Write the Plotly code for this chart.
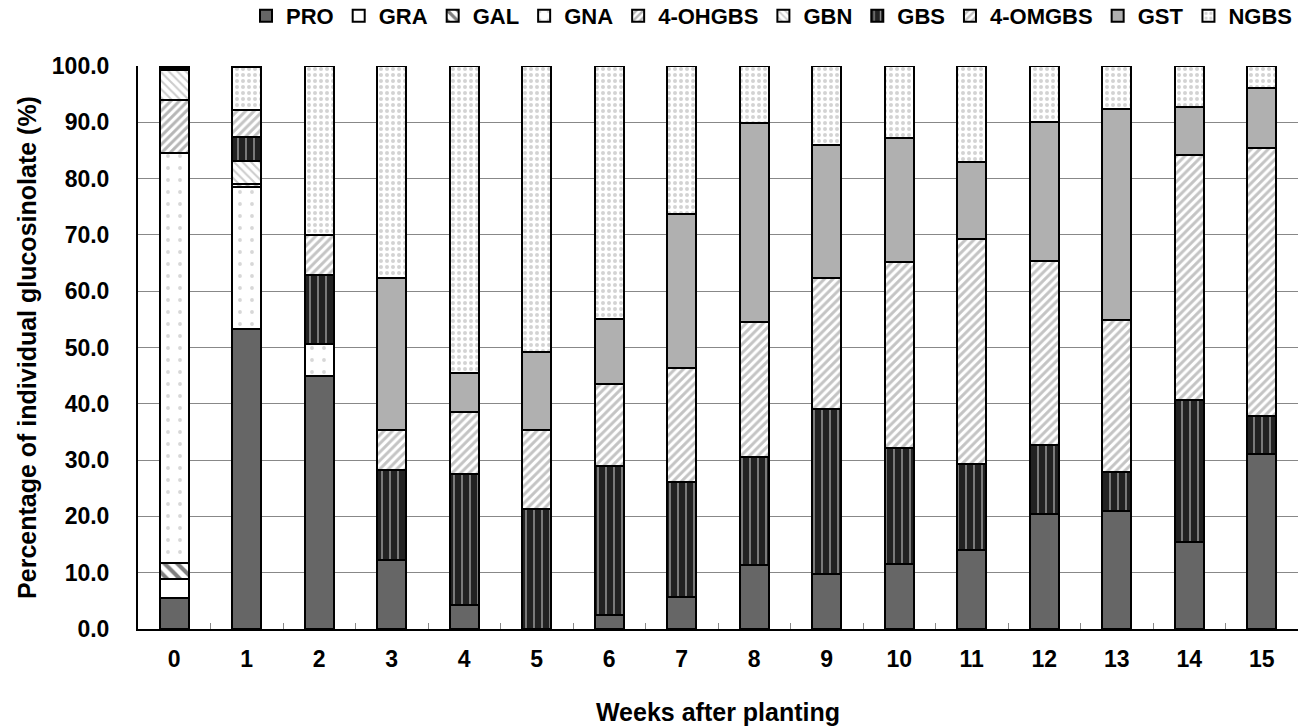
import plotly.graph_objects as go

weeks = [str(i) for i in range(16)]
series_names = ["PRO", "GRA", "GAL", "GNA", "4-OHGBS", "GBN", "GBS", "4-OMGBS", "GST", "NGBS"]

PRO = [5.5, 53.3, 45.0, 12.2, 4.3, 0.0, 2.5, 5.6, 11.4, 9.8, 11.6, 14.1, 20.5, 21.0, 15.5, 31.0]
GRA = [3.3, 0, 0, 0, 0, 0, 0, 0, 0, 0, 0, 0, 0, 0, 0, 0]
GAL = [3.0, 0, 0, 0, 0, 0, 0, 0, 0, 0, 0, 0, 0, 0, 0, 0]
GNA = [72.7, 25.2, 5.7, 0, 0, 0, 0, 0, 0, 0, 0, 0, 0, 0, 0, 0]
OHGBS = [9.5, 0.6, 0, 0, 0, 0, 0, 0, 0, 0, 0, 0, 0, 0, 0, 0]
GBN = [5.3, 4.1, 0, 0, 0, 0, 0, 0, 0, 0, 0, 0, 0, 0, 0, 0]
GBS = [0.4, 4.2, 12.1, 16.1, 23.3, 21.3, 26.4, 20.5, 19.1, 29.2, 20.6, 15.2, 12.2, 6.8, 25.1, 6.8]
OMGBS = [0, 4.7, 7.2, 7.0, 10.9, 14.0, 14.6, 20.3, 24.1, 23.4, 33.0, 39.9, 32.6, 27.0, 43.6, 47.7]
GST = [0, 0, 0, 27.0, 6.9, 13.9, 11.6, 27.4, 35.2, 23.6, 22.1, 13.8, 24.7, 37.6, 8.6, 10.6]
NGBS = [0.3, 7.8, 30.0, 37.7, 54.6, 50.8, 44.9, 26.2, 10.2, 14.0, 12.7, 17.0, 10.0, 7.6, 7.2, 3.9]

values = [PRO, GRA, GAL, GNA, OHGBS, GBN, GBS, OMGBS, GST, NGBS]

styles = [
    dict(color="#666666", pattern=dict(shape="")),
    dict(color="white", pattern=dict(shape="")),
    dict(color="white", pattern=dict(shape="\\", fgcolor="black", bgcolor="white", size=9, solidity=0.45)),
    dict(color="white", pattern=dict(shape=".", fgcolor="#b0b0b0", bgcolor="white", size=12, solidity=0.08)),
    dict(color="white", pattern=dict(shape="/", fgcolor="#6e6e6e", bgcolor="white", size=6, solidity=0.5)),
    dict(color="white", pattern=dict(shape="\\", fgcolor="#9a9a9a", bgcolor="white", size=6, solidity=0.35)),
    dict(color="#222222", pattern=dict(shape="|", fgcolor="white", bgcolor="#222222", size=8, solidity=0.2)),
    dict(color="white", pattern=dict(shape="/", fgcolor="#8a8a8a", bgcolor="white", size=6, solidity=0.5)),
    dict(color="#b0b0b0", pattern=dict(shape="")),
    dict(color="white", pattern=dict(shape=".", fgcolor="#a8a8a8", bgcolor="white", size=6, solidity=0.35)),
]

fig = go.Figure()
for name, vals, st in zip(series_names, values, styles):
    fig.add_trace(go.Bar(
        x=weeks, y=vals, name=name, width=0.4,
        marker=dict(color=st["color"], pattern=st["pattern"],
                    line=dict(color="black", width=2)),
    ))

font_family = "Liberation Sans, Arial, sans-serif"
fig.update_layout(
    barmode="stack",
    width=1300, height=726,
    margin=dict(l=138, r=2, t=66, b=97, autoexpand=False),
    plot_bgcolor="white", paper_bgcolor="white",
    font=dict(family=font_family, size=20, color="black"),
    legend=dict(orientation="h", x=1.0, xanchor="right", y=0.978, yanchor="middle",
                yref="container", font=dict(size=22, weight="bold"),
                itemwidth=30, tracegroupgap=0, traceorder="normal"),
    showlegend=True,
)
fig.update_xaxes(
    type="category", range=[-0.5, 15.5], automargin=False,
    showline=True, linecolor="black", linewidth=2,
    ticks="inside", tickson="boundaries", ticklen=6, tickcolor="#888888", tickwidth=1,
    showgrid=False,
    ticklabelstandoff=8,
    tickfont=dict(size=23, weight="bold"),
    title=dict(text="Weeks after planting", font=dict(size=25, weight="bold"), standoff=44),
)
fig.update_yaxes(
    range=[0, 100], dtick=10, tickformat=".1f", automargin=False,
    showline=True, linecolor="black", linewidth=2,
    showgrid=True, gridcolor="#888888", gridwidth=1,
    zeroline=False,
    ticklabelstandoff=22,
    tickfont=dict(size=23, weight="bold"),
    title=dict(text="Percentage of individual glucosinolate (%)", font=dict(size=25, weight="bold"), standoff=8),
)
fig.write_html("out.html", config={"displayModeBar": False},
               post_script="document.body.style.margin='0px';")
